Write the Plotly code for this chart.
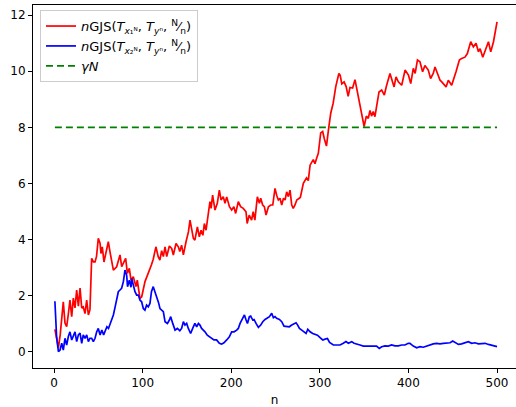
import plotly.graph_objects as go

# ---- data ----
red_n = [1, 2, 5, 7, 9, 10.5, 12.4, 14.3, 16, 18, 20, 21.8, 23.7, 25.6, 27.5, 29.4, 31.3, 33, 35, 36.9,
         38.8, 40.6, 42.5, 44.5, 46.3, 48, 50, 52, 53, 54.5, 56.4, 58.6, 61.3, 63.2, 65, 67, 70.7, 74.5,
         76.4, 78.2, 80.9, 82.8, 85, 86.9, 89.5, 92.5, 94, 97, 99, 102.7, 106.5, 110, 112, 115, 117.6,
         119.5, 121.5, 123.4, 125.3, 127.2, 130.2, 132.8, 134.7, 137.7, 140.3, 142, 144, 146, 149, 151.7,
         153.5, 155.4, 157.3, 159, 161.8, 164, 166, 168, 169.7, 171.6, 174.2, 176, 177.3, 179, 181.7,
         184.3, 186.6, 188.5, 191, 193, 194.9, 198, 200.5, 203, 205, 208, 210.6, 213.6, 216.7, 218, 220.3,
         223, 224.8, 226.7, 229.5, 231.8, 233.3, 235.5, 237.4, 239.3, 242, 244.6, 246.9, 249.4, 251.3,
         253.2, 255, 257, 259, 260.8, 262.6, 264.5, 266.4, 268.3, 270, 272, 274, 276, 278, 281.4, 285,
         287, 289, 292.6, 294.5, 296.4, 298.3, 301, 303.2, 305, 307.5, 309.7, 312.3, 315, 318, 321.5, 323,
         324.8, 327.4, 329.7, 332, 334, 337, 339.7, 341.8, 344.4, 346.5, 348.4, 350, 352.5, 354.7, 356.6,
         358.4, 360.3, 362.2, 364, 366.8, 369.8, 372.8, 375.4, 379.2, 383.8, 386, 388.6, 392.4, 396.2, 400,
         402.6, 405.5, 407.6, 410.2, 413, 416, 418.6, 422.4, 425, 428, 430, 435.7, 437.6, 442.5, 445,
         448.8, 453.7, 457.5, 460, 463.8, 466.5, 470.3, 473.3, 476.3, 479, 480.9, 483.9, 486.5, 490.3,
         492.9, 496, 500]
red_v = [0.8, 0.65, 0.15, 0.6, 1.25, 1.78, 1.02, 0.89, 1.3, 1.84, 1.25, 1.91, 1.56, 2.2, 1.62, 2.27, 1.56, 1.6, 1.36, 1.84,
         1.31, 1.5, 3.33, 3.2, 3.2, 3.4, 4.04, 3.86, 3.5, 3.74, 3.2, 3.5, 3.92, 3.56, 3.27, 2.91, 3.03, 3.45,
         3.03, 3.15, 3.33, 2.79, 2.97, 2.55, 2.67, 2.32, 2.55, 1.9, 1.96, 2.5, 2.79, 3.1, 3.3, 3.74, 3.39,
         3.27, 3.6, 3.39, 3.74, 3.39, 3.77, 3.68, 3.45, 3.86, 3.74, 3.57, 3.8, 3.45, 3.92, 4.27,
         4.69, 4.33, 4.04, 3.98, 4.45, 4.1, 4.33, 4.15, 4.57, 4.33, 4.99, 5.35, 5.11, 5.58, 5.05,
         5.29, 5.76, 5.41, 5.53, 5.29, 5.52, 5.17, 5.05, 5.17, 4.93, 5.35, 5.17, 5.11, 4.99, 4.57, 4.87,
         4.69, 4.99, 4.69, 5.52, 5.29, 5.47, 5.23, 5.17, 4.87, 5.17, 5.23, 5.23, 5.82, 5.58,
         5.41, 5.47, 5.23, 5.47, 5.41, 5.7, 5.53, 5.76, 5.23, 5.11, 5.23, 5.41, 5.47, 5.5, 6.0, 6.2,
         6.1, 6.65, 6.85, 6.7, 6.9, 7.07, 7.8, 7.85, 7.6, 7.33, 7.9, 8.5, 8.85, 9.45, 9.92, 9.85,
         9.55, 9.62, 9.45, 9.1, 9.42, 9.4, 9.7, 9.35, 8.9, 8.5, 8.26, 8.03, 8.4, 8.32, 8.6,
         8.4, 8.56, 8.38, 8.73, 9.26, 9.33, 9.15, 9.5, 9.92, 9.44, 9.8, 9.62, 9.5, 10.04, 9.86,
         9.56, 10.1, 9.92, 10.4, 10.34, 9.98, 10.2, 10.04, 9.74, 9.92, 10.15, 9.68, 9.62, 9.44, 9.68,
         9.5, 9.98, 10.4, 10.45, 10.5, 10.63, 11.05, 10.87, 11.0, 10.69, 10.8, 10.5, 10.75, 11.05,
         10.69, 11.05, 11.76]

blue_n = [1, 2, 3, 5, 6.8, 8.7, 10.5, 12.4, 14.3, 16.2, 18, 20, 21.8, 23.7, 25.6, 27.5, 29.4, 31.3, 33, 35,
          36.9, 38.8, 40.6, 42.5, 44.4, 46.3, 48.2, 50, 52, 54, 56, 57.8, 59.7, 61.5, 63.4, 65.2, 67, 69,
          70.8, 72.6, 74.5, 76.3, 78.3, 80.1, 82, 83, 85, 86.9, 87.7, 89.5, 91.4, 93.3, 95.2, 97, 98.9,
          100.8, 102.6, 104.5, 106.4, 108.3, 110, 112, 114, 115.8, 118, 119.6, 121.5, 123.4, 125.3, 128,
          130.2, 131.7, 134, 136.6, 139.2, 142, 144, 146, 147.8, 149.7, 151.6, 154.2, 156.5, 159, 161, 163,
          164.7, 166.6, 168.5, 170.4, 173, 175.3, 177.9, 180.5, 183.5, 186.6, 189.2, 191.8, 194.9, 197.9,
          200.5, 203.2, 206.2, 208, 210, 213, 214.9, 216.8, 218.3, 220.5, 222, 224.3, 225.8, 228, 230.7,
          233.3, 235.6, 238.2, 240.1, 243.1, 245.7, 247.6, 249.4, 251.3, 254.4, 257, 259.6, 262.6, 265.6,
          268.3, 270.9, 273.2, 275, 277, 279.6, 282.3, 284.5, 286.4, 289, 292, 294.7, 297.3, 300.3, 303.3,
          306, 308.6, 311, 315.3, 319, 322.8, 326.5, 329.5, 332.2, 336, 338.6, 341.6, 345.4, 349.1, 352.9,
          356.6, 360.3, 364, 367.1, 369.8, 373.5, 377.2, 381, 384.8, 388.6, 392.3, 396.1, 399.8, 401.7,
          405.5, 409.3, 413, 416.8, 420.6, 424.3, 428, 431.8, 435.6, 439.4, 443.2, 447, 450, 452.6, 456.4,
          460, 464, 467.6, 471.4, 475, 479, 482.8, 486.5, 490.3, 494, 497.8, 500]
blue_v = [1.8, 1.0, 0.5, 0.0, 0.06, 0.3, 0.06, 0.48, 0.24, 0.54, 0.71, 0.42, 0.6, 0.71, 0.36, 0.6, 0.66, 0.3, 0.6, 0.48,
          0.6, 0.36, 0.48, 0.48, 0.36, 0.48, 0.71, 0.83, 0.6, 0.77, 0.6, 0.77, 0.89, 0.83, 1.01, 1.13, 1.31, 1.6,
          1.84, 2.14, 2.2, 2.26, 2.5, 2.91, 2.73, 2.32, 2.55, 2.3, 2.61, 2.38, 2.14, 2.02, 2.02, 1.84, 1.78,
          1.54, 1.48, 1.66, 1.6, 1.72, 2.14, 2.32, 2.14, 1.9, 1.75, 1.54, 1.49, 1.43, 1.07, 1.01,
          1.13, 1.25, 1.01, 0.77, 0.83, 0.75, 0.83, 1.07, 0.95, 1.01, 0.83, 0.65, 0.83, 1.01, 0.89, 1.01,
          0.95, 0.83, 0.77, 0.71, 0.59, 0.53, 0.47, 0.42, 0.42, 0.3, 0.27, 0.32, 0.42, 0.53,
          0.71, 0.71, 0.77, 0.83, 1.01, 1.19, 1.31, 1.13, 1.01, 1.25, 1.27, 1.13, 1.15, 1.01, 0.87,
          0.95, 1.07, 1.15, 1.19, 1.25, 1.37, 1.21, 1.25, 1.19, 1.15, 1.07, 0.91, 0.91, 0.89,
          0.95, 1.01, 1.03, 0.95, 0.83, 0.77, 0.71, 0.65, 0.8, 0.71, 0.65, 0.62, 0.59, 0.5, 0.42,
          0.45, 0.47, 0.33, 0.24, 0.24, 0.24, 0.3, 0.36, 0.3, 0.36, 0.3, 0.28, 0.24, 0.2, 0.2,
          0.18, 0.18, 0.2, 0.12, 0.18, 0.21, 0.2, 0.24, 0.21, 0.21, 0.24, 0.24, 0.3, 0.3,
          0.2, 0.14, 0.18, 0.16, 0.2, 0.26, 0.28, 0.3, 0.28, 0.3, 0.3, 0.32, 0.38, 0.32, 0.26,
          0.28, 0.32, 0.36, 0.3, 0.32, 0.28, 0.28, 0.3, 0.26, 0.24, 0.2, 0.18]

gamma_n = [1, 500]
gamma_v = [8, 8]

x_ticks = [0, 100, 200, 300, 400, 500]
y_ticks = [0, 2, 4, 6, 8, 10, 12]

name_red = "<i>n</i>GJS(<i>T</i><sub><i>x</i>₁ᴺ</sub>, <i>T</i><sub><i>y</i>ⁿ</sub>, <sup>N</sup>⁄<sub>n</sub>)"
name_blue = "<i>n</i>GJS(<i>T</i><sub><i>x</i>₂ᴺ</sub>, <i>T</i><sub><i>y</i>ⁿ</sub>, <sup>N</sup>⁄<sub>n</sub>)"
name_green = "<i>γN</i>"

fig = go.Figure()
fig.add_trace(go.Scatter(x=red_n, y=red_v, mode="lines", name=name_red,
                         line=dict(color="#ff0000", width=1.7)))
fig.add_trace(go.Scatter(x=blue_n, y=blue_v, mode="lines", name=name_blue,
                         line=dict(color="#0000ff", width=1.7)))
fig.add_trace(go.Scatter(x=gamma_n, y=gamma_v, mode="lines", name=name_green,
                         line=dict(color="#008000", width=1.7, dash="7px,4px")))

axis_common = dict(showgrid=False, zeroline=False, showline=True, linecolor="black", linewidth=1,
                   ticks="outside", ticklen=4, tickwidth=1, tickcolor="black",
                   tickfont=dict(family="DejaVu Sans", size=12, color="black"))

fig.update_layout(
    width=516, height=407,
    margin=dict(l=33, r=0, t=5, b=39),
    paper_bgcolor="white", plot_bgcolor="white",
    font=dict(family="DejaVu Sans", size=12, color="black"),
    xaxis=dict(range=[-23.7, 521.4], tickvals=x_ticks, mirror=True,
               title=dict(text="n", font=dict(size=12), standoff=6), **axis_common),
    yaxis=dict(range=[-0.58, 12.36], tickvals=y_ticks, **axis_common),
    legend=dict(x=0.0145, y=0.986, xanchor="left", yanchor="top",
                bgcolor="rgba(255,255,255,0.8)", bordercolor="#cccccc", borderwidth=1,
                font=dict(family="DejaVu Sans", size=13, color="black"),
                tracegroupgap=0),
    showlegend=True,
)

fig.write_html("out.html")
